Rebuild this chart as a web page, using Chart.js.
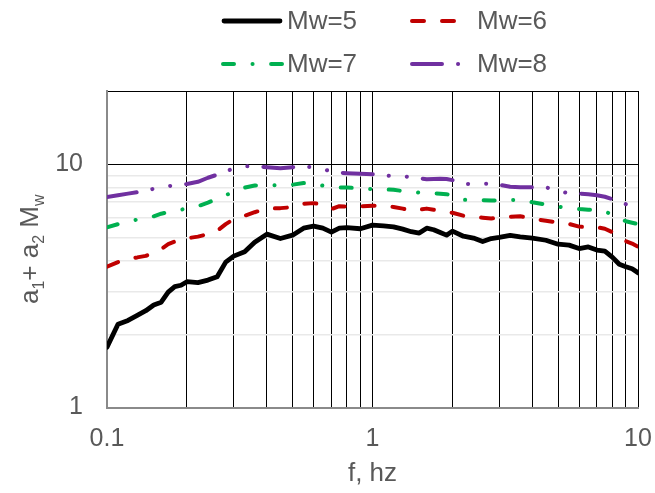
<!DOCTYPE html>
<html><head><meta charset="utf-8">
<script src="https://cdn.jsdelivr.net/npm/chart.js@4"></script>
<style>html,body{margin:0;padding:0;background:#fff;}canvas{display:block;}</style>
</head><body>
<canvas id="c" width="655" height="493"></canvas>
<script>
const freqs = [0.1,0.11,0.12,0.13,0.14,0.15,0.16,0.17,0.18,0.19,0.2,0.22,0.24,0.26,0.28,0.3,0.33,0.36,0.4,0.45,0.5,0.55,0.6,0.65,0.7,0.75,0.8,0.9,1.0,1.1,1.2,1.3,1.4,1.5,1.6,1.7,1.8,1.9,2.0,2.2,2.4,2.6,2.8,3.0,3.3,3.6,4.0,4.5,5.0,5.5,6.0,6.5,7.0,7.5,8.0,8.5,9.0,9.5,10];
const mw5 = [1.77,2.20,2.28,2.39,2.50,2.64,2.71,2.98,3.14,3.18,3.29,3.26,3.34,3.45,3.96,4.19,4.37,4.78,5.16,4.95,5.11,5.46,5.57,5.46,5.26,5.46,5.49,5.43,5.62,5.58,5.53,5.41,5.28,5.21,5.46,5.38,5.24,5.11,5.31,5.06,4.97,4.81,4.95,5.00,5.10,5.03,4.97,4.87,4.69,4.65,4.50,4.57,4.44,4.39,4.15,3.88,3.79,3.72,3.58];
const mw6 = [3.79,3.96,4.09,4.14,4.20,4.33,4.48,4.69,4.81,4.87,4.96,5.04,5.16,5.32,5.67,5.95,6.14,6.35,6.57,6.60,6.66,6.88,6.92,6.82,6.54,6.72,6.70,6.72,6.75,6.77,6.67,6.57,6.44,6.50,6.57,6.50,6.41,6.35,6.32,6.14,6.07,6.03,5.98,6.03,6.08,6.11,5.97,5.86,5.75,5.68,5.54,5.51,5.51,5.43,5.26,5.01,4.83,4.72,4.58];
const mw7 = [5.51,5.67,5.83,5.92,6.00,6.11,6.26,6.35,6.44,6.50,6.60,6.72,6.95,7.22,7.46,7.71,8.01,8.18,8.18,8.20,8.24,8.37,8.32,8.17,8.08,8.02,8.02,7.97,7.89,7.89,7.85,7.76,7.71,7.64,7.60,7.58,7.57,7.53,7.46,7.14,7.12,7.12,7.10,7.08,7.12,7.15,6.98,6.82,6.69,6.60,6.54,6.50,6.51,6.38,6.23,6.00,5.83,5.75,5.67];
const mw8 = [7.34,7.46,7.57,7.67,7.78,7.93,8.05,8.13,8.18,8.24,8.29,8.47,8.80,9.06,9.32,9.63,9.81,9.81,9.72,9.62,9.72,9.81,9.70,9.54,9.36,9.23,9.19,9.14,9.10,9.01,8.93,8.93,8.84,8.76,8.68,8.70,8.72,8.70,8.60,8.32,8.28,8.30,8.32,8.24,8.08,8.05,8.04,8.05,7.71,7.62,7.57,7.53,7.46,7.35,7.18,7.02,6.85,6.72,6.54];
const seriesNames = ['Mw=5','Mw=6','Mw=7','Mw=8'];
const xGridValues = [0.1,0.2,0.3,0.4,0.5,0.6,0.7,0.8,0.9,1,2,3,4,5,6,7,8,9,10];
const xTickLabels = [0.1,1,10];
const yGridValues = [1,2,3,4,5,6,7,8,9,10,20];
const yTickLabels = [1,10];
const xTitle = 'f, hz';

const TXT = '#595959';
const FONT = 'Liberation Sans, Arial, sans-serif';
const styles = [
  {color:'#000000', width:4.8, dash:[]},
  {color:'#c00000', width:4, dash:[12,18]},
  {color:'#00b050', width:4, dash:[11,18.5,0.1,18.5]},
  {color:'#7030a0', width:4, dash:[30,16,0.1,18,0.1,16]}
];
const seriesData = [mw5, mw6, mw7, mw8];

const datasets = seriesData.map((arr,i)=>({
  label: seriesNames[i],
  data: freqs.map((f,j)=>({x:f,y:arr[j]})),
  borderColor: styles[i].color,
  borderWidth: styles[i].width,
  borderDash: styles[i].dash,
  borderCapStyle: 'round',
  borderJoinStyle: 'round',
  pointRadius: 0,
  fill: false,
  tension: 0
}));

const legendPlugin = {
  id:'customLegend',
  afterDraw(chart){
    const ctx = chart.ctx;
    const pos = [
      {x1:224,x2:280,y:21,tx:287},
      {x1:412,x2:458,y:21,tx:477},
      {x1:223,x2:282,y:64,tx:287},
      {x1:412,x2:459,y:64,tx:477}
    ];
    chart.data.datasets.forEach((ds,i)=>{
      const p = pos[i];
      ctx.save();
      ctx.strokeStyle = ds.borderColor;
      ctx.lineWidth = ds.borderWidth;
      ctx.lineCap = 'round';
      ctx.setLineDash(ds.borderDash);
      ctx.beginPath(); ctx.moveTo(p.x1,p.y); ctx.lineTo(p.x2,p.y); ctx.stroke();
      ctx.setLineDash([]);
      ctx.fillStyle = TXT;
      ctx.font = '26px ' + FONT;
      ctx.textBaseline = 'middle';
      ctx.textAlign = 'left';
      ctx.fillText(ds.label, p.tx, p.y+1);
      ctx.restore();
    });
  }
};

const yTitlePlugin = {
  id:'yTitle',
  afterDraw(chart){
    const ctx = chart.ctx;
    const ca = chart.chartArea;
    const parts = [
      {t:'a',s:false},{t:'1',s:true},{t:'+ a',s:false},{t:'2',s:true},{t:' M',s:false},{t:'w',s:true}
    ];
    const big = '26px ' + FONT, small = '16px ' + FONT;
    ctx.save();
    let total = 0;
    parts.forEach(p=>{ctx.font = p.s?small:big; p.w = ctx.measureText(p.t).width; total += p.w;});
    ctx.translate(29, (ca.top+ca.bottom)/2);
    ctx.rotate(-Math.PI/2);
    ctx.fillStyle = TXT;
    ctx.textBaseline = 'alphabetic';
    let x = -total/2;
    parts.forEach(p=>{
      ctx.font = p.s?small:big;
      ctx.fillText(p.t, x, p.s ? 15 : 9);
      x += p.w;
    });
    ctx.restore();
  }
};

new Chart(document.getElementById('c'), {
  type:'line',
  data:{datasets},
  options:{
    responsive:false,
    animation:false,
    devicePixelRatio:1,
    layout:{padding:{top:91,right:17,left:0,bottom:0}},
    plugins:{legend:{display:false},tooltip:{enabled:false}},
    scales:{
      x:{
        type:'logarithmic', min:0.1, max:10, position:'bottom',
        afterBuildTicks(s){ s.ticks = xGridValues.map(v=>({value:v})); },
        afterFit(s){ s.height = 85.5; s.paddingLeft = 0; s.paddingRight = 0; },
        ticks:{
          autoSkip:false, maxRotation:0, padding:17, color:TXT,
          font:{family:FONT, size:25},
          callback(v){ return xTickLabels.some(t=>Math.abs(t-v)<1e-9) ? String(v) : ''; }
        },
        grid:{
          drawTicks:false, lineWidth:1,
          color(c){ return Math.abs(c.tick.value-0.1)<1e-9 ? '#8a8a8a' : '#000000'; }
        },
        border:{color:'#8a8a8a', width:2},
        title:{display:true, text:xTitle, color:TXT, font:{family:FONT, size:26}, padding:{top:0,bottom:4}}
      },
      y:{
        type:'logarithmic', min:1, max:20,
        afterBuildTicks(s){ s.ticks = yGridValues.map(v=>({value:v})); },
        afterFit(s){ s.width = 107; s.paddingTop = 0; s.paddingBottom = 0; },
        ticks:{
          autoSkip:false, padding:24, color:TXT,
          font:{family:FONT, size:25},
          callback(v){ return yTickLabels.some(t=>Math.abs(t-v)<1e-9) ? String(v) : ''; }
        },
        grid:{
          drawTicks:false,
          lineWidth(c){ const v=c.tick.value; return (v===10||v===20||v===1)?1:1.5; },
          color(c){ const v=c.tick.value; if(v===10||v===20) return '#000000'; if(v===1) return '#8a8a8a'; return '#e9e9e9'; }
        },
        border:{color:'#8a8a8a', width:2}
      }
    }
  },
  plugins:[legendPlugin, yTitlePlugin]
});
</script>
</body></html>
